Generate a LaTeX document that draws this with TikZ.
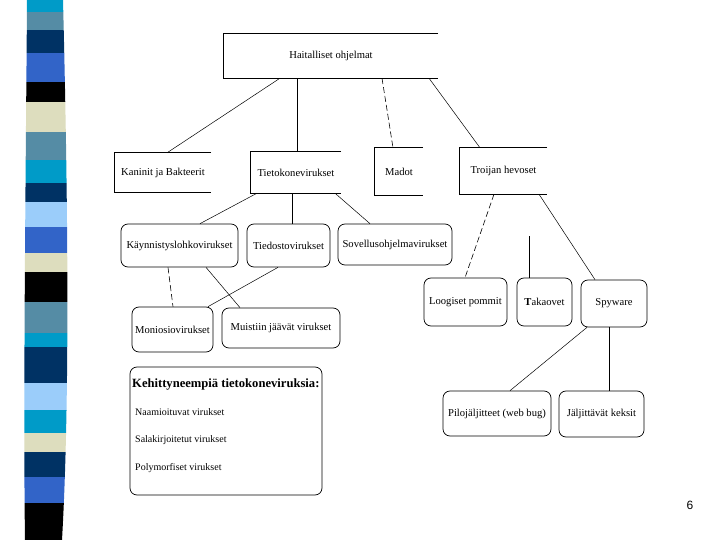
\documentclass[tikz,border=0pt]{standalone}
\usepackage{fontspec}
\setmainfont{Liberation Serif}
\newfontfamily\pagenofont{Liberation Sans}
\usetikzlibrary{calc}
\definecolor{sCyan}{RGB}{0,155,200}
\definecolor{sGray}{RGB}{85,140,165}
\definecolor{sNavy}{RGB}{0,50,100}
\definecolor{sRoyal}{RGB}{50,100,200}
\definecolor{sBeige}{RGB}{221,221,190}
\definecolor{sLight}{RGB}{155,205,250}
\begin{document}
\begin{tikzpicture}[x=1pt,y=-1pt,
  every node/.style={font=\fontsize{10.6}{12}\selectfont, inner sep=0pt},
  rbox/.style={draw, line width=0.7pt, rounded corners=7pt},
  itemtxt/.style={anchor=west, font=\fontsize{10}{12}\selectfont},
  conn/.style={line width=0.5pt},
  dconn/.style={line width=0.6pt, dash pattern=on 6pt off 3pt}]
\useasboundingbox (0,0) rectangle (720,540);
\fill[white] (0,0) rectangle (720,540);
% decorative stripe
\begin{scope}
\clip (27,0) -- (63,0) .. controls (68,200) and (70,400) .. (62,540) -- (25,540) .. controls (23,400) and (26,150) .. (27,0) -- cycle;
\foreach \ya/\yb/\c in {0/12/sCyan,12/30/sGray,30/53/sNavy,53/82/sRoyal,82/102/black,102/132/sBeige,132/160/sGray,160/183/sCyan,183/202/sNavy,202/227/sLight,227/253/sRoyal,253/272/sBeige,272/302/black,302/333/sGray,333/347/sCyan,347/383/sNavy,383/410/sLight,410/433/sCyan,433/452/sBeige,452/477/sNavy,477/503/sRoyal,503/540/black}
  \fill[\c] (0,\ya) rectangle (100,\yb);
\end{scope}
% square boxes (open on the right)
\node[minimum width=214, minimum height=44] (top) at (331,56) {Haitalliset ohjelmat};
\node[minimum width=96, minimum height=39] (kan) at (163,172.5) {Kaninit ja Bakteerit};
\node[minimum width=90, minimum height=41] (tiet) at (296,172.5) {Tietokonevirukset};
\node[minimum width=48, minimum height=47] (madot) at (399,171.5) {Madot};
\node[minimum width=87, minimum height=46] (troj) at (503.5,171) {Troijan hevoset};
\foreach \n in {top,kan,tiet,madot,troj}
  \draw[line width=0.8pt] (\n.north east) -- (\n.north west) -- (\n.south west) -- (\n.south east);
% rounded boxes
\node[rbox, minimum width=117, minimum height=43] (kay) at (179.5,245.5) {Käynnistyslohkovirukset};
\node[rbox, minimum width=83, minimum height=43] (tied) at (288.5,245.5) {Tiedostovirukset};
\node[rbox, minimum width=114, minimum height=41] (sov) at (395,244.5) {Sovellusohjelmavirukset};
\node[rbox, minimum width=81, minimum height=45] (moni) at (172.5,329.5) {Moniosiovirukset};
\node[rbox, minimum width=118, minimum height=40] (muist) at (281,328) {Muistiin jäävät virukset};
\node[rbox, minimum width=83, minimum height=48] (loog) at (465.5,302) {Loogiset pommit};
\node[rbox, minimum width=55, minimum height=48] (taka) at (544.5,302) {\textbf{T}akaovet};
\node[rbox, minimum width=66, minimum height=47] (spy) at (614,303.5) {Spyware};
\node[rbox, minimum width=108, minimum height=45] (pilo) at (497,413.5) {Pilojäljitteet (web bug)};
\node[rbox, minimum width=85, minimum height=46] (jalj) at (601.5,414) {Jäljittävät keksit};
\node[rbox, minimum width=192, minimum height=128] (keh) at (226,431) {};
\node[anchor=west, font=\fontsize{12.6}{14}\selectfont\bfseries] (kehtitle) at (132,384) {Kehittyneempiä tietokoneviruksia:};
\node[itemtxt] (it1) at (135,412) {Naamioituvat virukset};
\node[itemtxt] (it2) at (135,440) {Salakirjoitetut virukset};
\node[itemtxt] (it3) at (135,468) {Polymorfiset virukset};
% connectors
\draw[conn] ([xshift=-51]top.south) -- ([xshift=4]kan.north);
\draw[conn, line width=0.8pt] ([xshift=-34]top.south) -- ([xshift=1]tiet.north);
\draw[dconn] ([xshift=51]top.south) -- ([xshift=-6]madot.north);
\draw[conn] ([xshift=98]top.south) -- ([xshift=-23.5]troj.north);
\draw[conn] ([xshift=-39]tiet.south) -- ([xshift=20.5]kay.north);
\draw[conn, line width=0.8pt] ([xshift=-4]tiet.south) -- ([xshift=3.5]tied.north);
\draw[conn] ([xshift=39]tiet.south) -- ([xshift=-25]sov.north);
\draw[dconn] ([xshift=-11.5]kay.south) -- ([xshift=0.5]moni.north);
\draw[conn] ([xshift=26.5]kay.south) -- ([xshift=-41]muist.north);
\draw[conn] ([xshift=-10.5]tied.south) -- ([xshift=35.5]moni.north);
\draw[dconn] ([xshift=-9.5]troj.south) -- ([xshift=-0.5]loog.north);
\coordinate (takaend) at (529,236);
\draw[conn, line width=0.8pt] (takaend) -- ([xshift=-15.5]taka.north);
\draw[conn] ([xshift=35.5]troj.south) -- ([xshift=-19]spy.north);
\draw[conn] ([xshift=-27]spy.south) -- ([xshift=13]pilo.north);
\draw[conn, line width=0.8pt] ([xshift=-5]spy.south) -- ([xshift=7.5]jalj.north);
% page number
\node[font=\pagenofont\fontsize{12}{14}\selectfont] (pageno) at (690,505) {6};
\end{tikzpicture}
\end{document}
